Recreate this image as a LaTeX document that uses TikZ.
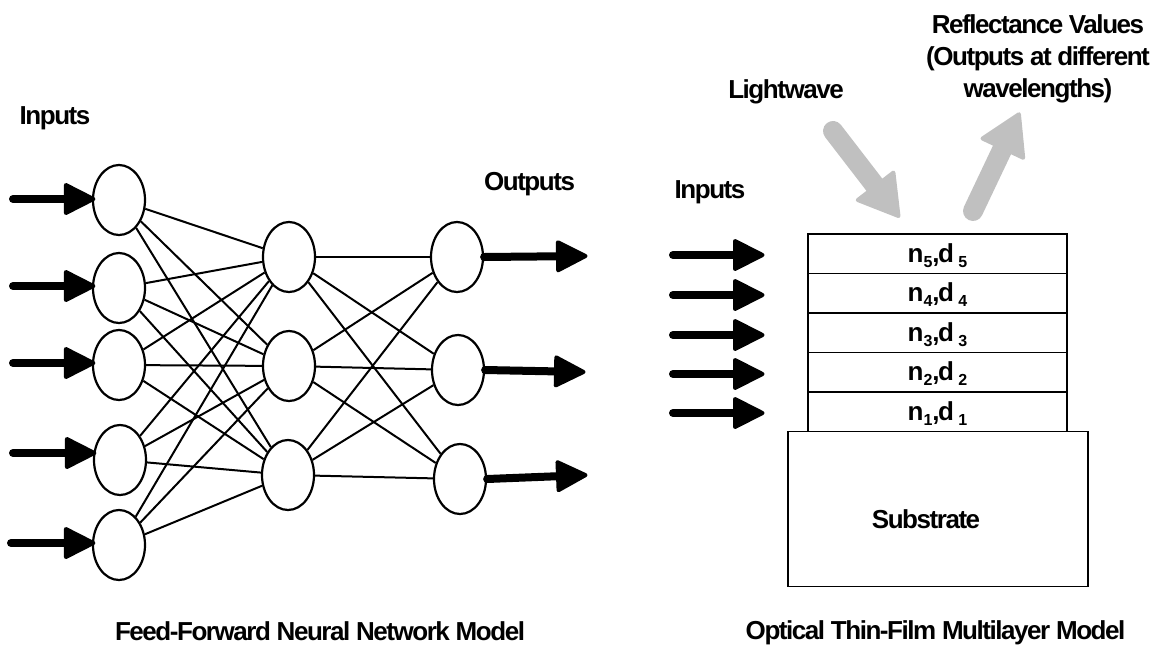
\documentclass[tikz,border=0pt]{standalone}
\usepackage{fontspec}
\setmainfont{Liberation Sans}[LetterSpace=-5.6]
\usetikzlibrary{shapes.geometric,calc}

% lowered small index used in the layer labels
\newcommand\lsub[1]{\raisebox{-5pt}{\fontsize{16}{16}\selectfont #1}}

% thick arrow with a rounded triangular head
% #1 colour, #2 shaft width, #3 start, #4 tip, #5 head length, #6 head width
\newcommand\fatarrow[6]{%
  \coordinate (fa-base) at ($(#4)!#5!(#3)$);
  \coordinate (fa-tip) at ($(#4)!2.5pt!(#3)$);
  \coordinate (fa-l) at ($(fa-base)!#6/2-2pt!90:(#4)$);
  \coordinate (fa-r) at ($(fa-base)!#6/2-2pt!-90:(#4)$);
  \draw[draw=#1, line width=#2, line cap=round] (#3) -- ($(fa-base)!3pt!(#4)$);
  \filldraw[draw=#1, fill=#1, line width=4pt, line join=round]
    (fa-tip) -- (fa-l) -- (fa-r) -- cycle;
}

\definecolor{beamgray}{RGB}{192,192,192}

\begin{document}
\begin{tikzpicture}[x=1pt,y=-1pt,
  lbl/.style={font=\bfseries\fontsize{26}{32}\selectfont, inner sep=0pt, anchor=base},
  neuron/.style={ellipse, draw, line width=2.2pt, fill=white,
                 minimum width=52pt, minimum height=70pt, inner sep=0pt},
  link/.style={line width=2pt},
  layerbox/.style={draw, line width=1.2pt, minimum width=259pt,
                   minimum height=39.5pt, inner sep=0pt},
]
\useasboundingbox (0,0) rectangle (1161,646);

% ---------- feed-forward network ----------
\node[neuron] (i1) at (119,200) {};
\node[neuron] (i2) at (119,288) {};
\node[neuron] (i3) at (119,365) {};
\node[neuron] (i4) at (120,460) {};
\node[neuron] (i5) at (119,545) {};
\node[neuron] (h1) at (289,257) {};
\node[neuron] (h2) at (289,366) {};
\node[neuron] (h3) at (288,475) {};
\node[neuron] (o1) at (457,257) {};
\node[neuron] (o2) at (458,370) {};
\node[neuron] (o3) at (460,479) {};

\foreach \i in {1,...,5} {
  \foreach \h in {1,2,3} {
    \draw[link] (i\i) -- (h\h);
  }
}
\foreach \h in {1,2,3} {
  \foreach \o in {1,2,3} {
    \draw[link] (h\h) -- (o\o);
  }
}

% input arrows
\coordinate (a1) at (13,199);
\coordinate (a2) at (13,286);
\coordinate (a3) at (13,363);
\coordinate (a4) at (13,453);
\coordinate (a5) at (11,543);
\foreach \k in {1,...,5} {
  \coordinate (a\k t) at ($(a\k -| i\k.west)+(4,0)$);
  \fatarrow{black}{8pt}{a\k}{a\k t}{30pt}{32pt}
}

% output arrows
\coordinate (b1) at (588,256);
\coordinate (b2) at (586,372);
\coordinate (b3) at (588,475);
\foreach \k in {1,2,3} {
  \fatarrow{black}{8pt}{o\k.east}{b\k}{30pt}{32pt}
}

\node[lbl] (inl) at (55,124) {Inputs};
\node[lbl] (outl) at (529.5,190) {Outputs};
\node[lbl] (nntitle) at (320,640) {Feed-Forward Neural Network Model};

% ---------- thin-film stack ----------
\node[layerbox] (L5) at (937.5,253.75) {};
\node[layerbox] (L4) at (937.5,293.25) {};
\node[layerbox] (L3) at (937.5,332.75) {};
\node[layerbox] (L2) at (937.5,372.25) {};
\node[layerbox] (L1) at (937.5,411.75) {};
\node[draw, line width=1.2pt, minimum width=300pt, minimum height=155pt,
      inner sep=0pt] (sub) at (938,509) {};

\node[lbl] (t5) at (937.5,262) {n\lsub5,d\,\lsub5};
\node[lbl] (t4) at (937.5,301.5) {n\lsub4,d\,\lsub4};
\node[lbl] (t3) at (937.5,341) {n\lsub3,d\,\lsub3};
\node[lbl] (t2) at (937.5,380.5) {n\lsub2,d\,\lsub2};
\node[lbl] (t1) at (937.5,420) {n\lsub1,d\,\lsub1};
\node[lbl] (subt) at (926,528) {Substrate};

% inputs to the stack
\foreach \k/\y in {5/255,4/295,3/335,2/374,1/413} {
  \coordinate (s\k) at (673,\y);
  \coordinate (e\k) at (765,\y);
  \fatarrow{black}{8pt}{s\k}{e\k}{30pt}{32pt}
}

% incident and reflected light
\coordinate (lw0) at (833,131);
\coordinate (lw1) at (900,218);
\coordinate (rf0) at (973,211);
\coordinate (rf1) at (1020,112);
\fatarrow{beamgray}{20pt}{lw0}{lw1}{40pt}{49pt}
\fatarrow{beamgray}{20pt}{rf0}{rf1}{40pt}{49pt}

\node[lbl] (inr) at (710,198) {Inputs};
\node[lbl] (lwl) at (786,98) {Lightwave};
\node[lbl, align=center] (rfl) at (1038,97)
  {Reflectance Values\\(Outputs at different\\wavelengths)};
\node[lbl] (tftitle) at (935.5,639) {Optical Thin-Film Multilayer Model};
\end{tikzpicture}
\end{document}
